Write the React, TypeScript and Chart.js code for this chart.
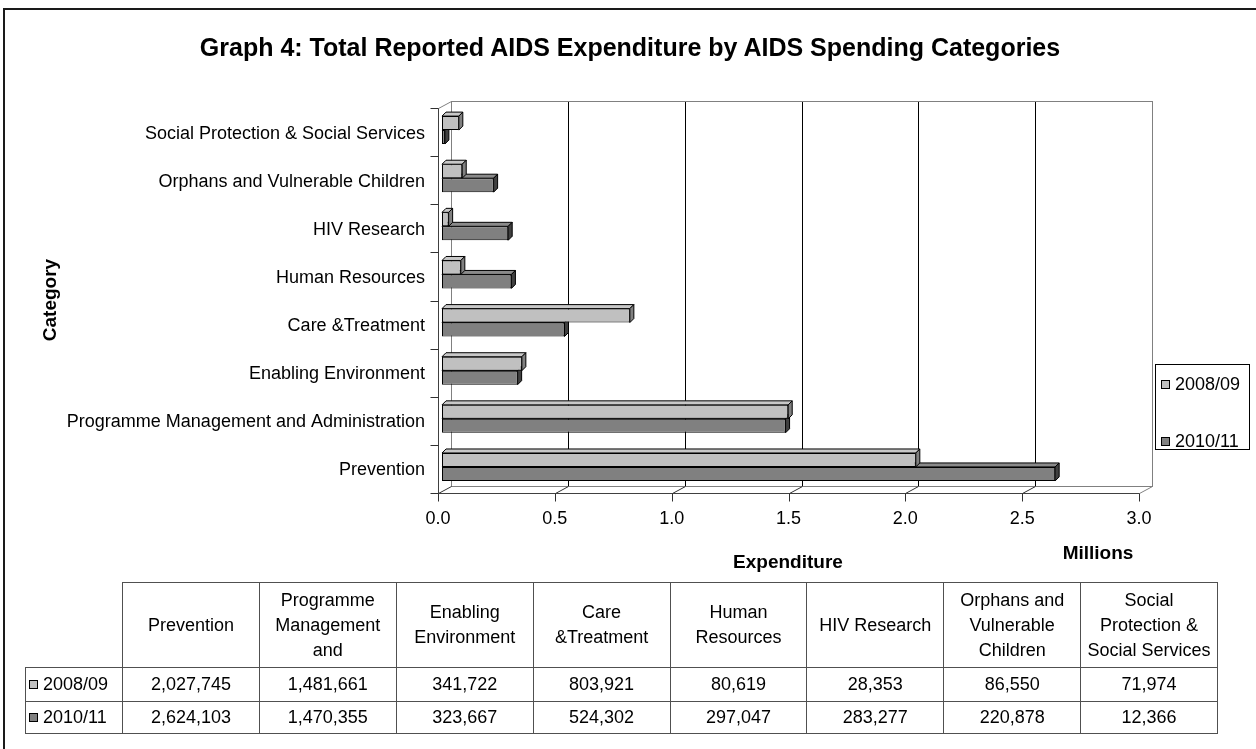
import React, { useEffect, useRef } from 'react';
import { Chart, registerables } from 'chart.js';

Chart.register(...registerables);

// ---------- data ----------
const categories = [
  'Prevention',
  'Programme Management and Administration',
  'Enabling Environment',
  'Care &Treatment',
  'Human Resources',
  'HIV Research',
  'Orphans and Vulnerable Children',
  'Social Protection & Social Services',
];
const seriesNames = ['2008/09', '2010/11'];
const values2008 = [2027745, 1481661, 341722, 803921, 80619, 28353, 86550, 71974];
const values2010 = [2624103, 1470355, 323667, 524302, 297047, 283277, 220878, 12366];
const xTickValues = [0, 500000, 1000000, 1500000, 2000000, 2500000, 3000000];
const xTickLabels = ['0.0', '0.5', '1.0', '1.5', '2.0', '2.5', '3.0'];

const titleText = 'Graph 4: Total Reported AIDS Expenditure by AIDS Spending Categories';
const xTitle = 'Expenditure';
const yTitle = 'Category';
const unitTitle = 'Millions';

// ---------- styles ----------
const FONT = '"Liberation Sans", Arial, Helvetica, sans-serif';
const frontColors = ['#C0C0C0', '#808080'];
const topColors = ['#C8C8C8', '#8A8A8A'];
const sideColors = ['#808080', '#404040'];
const W = 1256;
const H = 749;
const DX = 13;
const DY = -7;
const BAR_D = 4;

const threeD = {
  id: 'threeD',
  beforeDatasetsDraw(chart: any) {
    const ctx = chart.ctx;
    const a = chart.chartArea;
    const xs = chart.scales.x;
    const ys = chart.scales.y;
    const px = (v: number) => Math.round(v) + 0.5;
    ctx.save();
    ctx.lineWidth = 1;
    const L = px(a.left), R = px(a.right), T = px(a.top), B = px(a.bottom);

    // back wall gridlines
    xTickValues.forEach((v, i) => {
      const x = px(xs.getPixelForValue(v));
      if (i > 0 && i < xTickValues.length - 1) {
        ctx.strokeStyle = '#000';
        ctx.beginPath();
        ctx.moveTo(x + DX, T + DY);
        ctx.lineTo(x + DX, B + DY);
        ctx.stroke();
      }
    });
    // back wall frame
    ctx.strokeStyle = '#808080';
    ctx.strokeRect(L + DX, T + DY, R - L, B - T);
    // left wall top diagonal
    ctx.beginPath();
    ctx.moveTo(L, T);
    ctx.lineTo(L + DX, T + DY);
    ctx.stroke();
    // floor diagonals
    xTickValues.forEach((v, i) => {
      const x = px(xs.getPixelForValue(v));
      ctx.strokeStyle = i === xTickValues.length - 1 ? '#808080' : '#303030';
      ctx.beginPath();
      ctx.moveTo(x, B);
      ctx.lineTo(x + DX, B + DY);
      ctx.stroke();
    });
    // front axes
    ctx.strokeStyle = '#404040';
    ctx.beginPath();
    ctx.moveTo(L, T);
    ctx.lineTo(L, B);
    ctx.lineTo(R, B);
    ctx.stroke();
    // x ticks
    ctx.strokeStyle = '#303030';
    xTickValues.forEach((v) => {
      const x = px(xs.getPixelForValue(v));
      ctx.beginPath();
      ctx.moveTo(x, B);
      ctx.lineTo(x, B + 8);
      ctx.stroke();
    });
    // y ticks
    const n = categories.length;
    const band = (a.bottom - a.top) / n;
    for (let k = 0; k <= n; k++) {
      const y = px(a.top + k * band);
      ctx.beginPath();
      ctx.moveTo(L - 8, y);
      ctx.lineTo(L, y);
      ctx.stroke();
    }
    // labels
    ctx.fillStyle = '#000';
    ctx.font = `18px ${FONT}`;
    ctx.textAlign = 'center';
    ctx.textBaseline = 'alphabetic';
    xTickValues.forEach((v, i) => {
      ctx.fillText(xTickLabels[i], xs.getPixelForValue(v), a.bottom + 31);
    });
    ctx.textAlign = 'right';
    categories.forEach((c, i) => {
      ctx.fillText(c, a.left - 13, ys.getPixelForValue(i) + 6.5);
    });
    ctx.restore();

    // shift bars into depth
    ctx.save();
    ctx.translate(4, -2);
  },
  afterDatasetDraw(chart: any, args: any) {
    const ctx = chart.ctx;
    const idx = args.index;
    ctx.save();
    ctx.lineWidth = 1;
    ctx.strokeStyle = '#000';
    args.meta.data.forEach((el: any) => {
      const { x, y, base, height } = el.getProps(['x', 'y', 'base', 'height'], true);
      const l = Math.min(x, base);
      const r = Math.max(x, base);
      const t = y - height / 2;
      const b = y + height / 2;
      const d = BAR_D;
      ctx.fillStyle = topColors[idx];
      ctx.beginPath();
      ctx.moveTo(l, t);
      ctx.lineTo(l + d, t - d);
      ctx.lineTo(r + d, t - d);
      ctx.lineTo(r, t);
      ctx.closePath();
      ctx.fill();
      ctx.stroke();
      ctx.fillStyle = sideColors[idx];
      ctx.beginPath();
      ctx.moveTo(r, t);
      ctx.lineTo(r + d, t - d);
      ctx.lineTo(r + d, b - d);
      ctx.lineTo(r, b);
      ctx.closePath();
      ctx.fill();
      ctx.stroke();
    });
    ctx.restore();
  },
  afterDatasetsDraw(chart: any) {
    chart.ctx.restore();
  },
};

const fmt = (v: number) => v.toLocaleString('en-US');

export default function App() {
  const ref = useRef<HTMLCanvasElement | null>(null);

  useEffect(() => {
    if (!ref.current) return;
    const chart = new Chart(ref.current, {
      type: 'bar',
      data: {
        labels: categories,
        datasets: [
          {
            label: seriesNames[0],
            data: values2008,
            backgroundColor: frontColors[0],
            borderColor: '#000',
            borderWidth: 1,
            borderSkipped: false,
            categoryPercentage: 0.58,
            barPercentage: 1,
            clip: false as any,
          },
          {
            label: seriesNames[1],
            data: values2010,
            backgroundColor: frontColors[1],
            borderColor: '#000',
            borderWidth: 1,
            borderSkipped: false,
            categoryPercentage: 0.58,
            barPercentage: 1,
            clip: false as any,
          },
        ],
      },
      options: {
        indexAxis: 'y',
        animation: false,
        responsive: false,
        devicePixelRatio: 1,
        layout: { padding: { left: 438, right: W - 1139, top: 108, bottom: H - 493 } },
        scales: {
          x: { display: false, min: 0, max: 3000000 },
          y: { display: false, reverse: true },
        },
        plugins: {
          legend: { display: false },
          tooltip: { enabled: false },
          title: { display: false },
        },
      },
      plugins: [threeD],
    });
    return () => chart.destroy();
  }, []);

  const colLeft = 122;
  const colRight = 1217;
  const colW = (colRight - colLeft) / categories.length;
  const headTop = 582;
  const headBot = 667;
  const rowLines = [667, 701, 733];
  const rowVals = [values2008, values2010];
  const border = '1px solid #505050';

  const cells: React.ReactNode[] = [];
  categories.forEach((c, i) => {
    cells.push(
      <div
        key={'h' + i}
        style={{
          position: 'absolute',
          left: colLeft + i * colW,
          top: headTop,
          width: colW + 1,
          height: headBot - headTop + 1,
          border,
          boxSizing: 'border-box',
          display: 'flex',
          alignItems: 'center',
          justifyContent: 'center',
          padding: '0 4px',
        }}
      >
        <div style={{ maxHeight: 75, overflow: 'hidden', textAlign: 'center', lineHeight: '25px' }}>{c}</div>
      </div>
    );
  });
  rowVals.forEach((vals, r) => {
    const top = rowLines[r];
    const h = rowLines[r + 1] - top + 1;
    cells.push(
      <div
        key={'l' + r}
        style={{
          position: 'absolute',
          left: 25,
          top,
          width: colLeft - 25 + 1,
          height: h,
          border,
          boxSizing: 'border-box',
          display: 'flex',
          alignItems: 'center',
        }}
      >
        <span
          style={{
            display: 'inline-block',
            width: 7,
            height: 7,
            background: frontColors[r],
            border: '1px solid #000',
            marginLeft: 3,
            marginRight: 5,
          }}
        />
        <span>{seriesNames[r]}</span>
      </div>
    );
    vals.forEach((v, i) => {
      cells.push(
        <div
          key={'c' + r + '-' + i}
          style={{
            position: 'absolute',
            left: colLeft + i * colW,
            top,
            width: colW + 1,
            height: h,
            border,
            boxSizing: 'border-box',
            display: 'flex',
            alignItems: 'center',
            justifyContent: 'center',
          }}
        >
          {fmt(v)}
        </div>
      );
    });
  });

  return (
    <div
      style={{
        position: 'fixed',
        left: 0,
        top: 0,
        width: W,
        height: H,
        overflow: 'hidden',
        background: '#fff',
        fontFamily: FONT,
        fontSize: 18,
        color: '#000',
      }}
    >
      <div
        style={{
          position: 'absolute',
          left: 3,
          top: 8,
          width: 1400,
          height: 900,
          borderLeft: '2px solid #1a1a1a',
          borderTop: '2px solid #1a1a1a',
        }}
      />
      <canvas ref={ref} width={W} height={H} style={{ position: 'absolute', left: 0, top: 0, width: W, height: H }} />
      <div
        style={{
          position: 'absolute',
          left: 0,
          top: 32,
          width: 1260,
          textAlign: 'center',
          fontWeight: 'bold',
          fontSize: 25,
          lineHeight: '30px',
        }}
      >
        {titleText}
      </div>
      <div
        style={{
          position: 'absolute',
          left: -20,
          top: 288,
          width: 140,
          height: 24,
          lineHeight: '24px',
          textAlign: 'center',
          fontWeight: 'bold',
          fontSize: 19,
          transform: 'rotate(-90deg)',
        }}
      >
        {yTitle}
      </div>
      <div
        style={{
          position: 'absolute',
          left: 688,
          top: 550,
          width: 200,
          lineHeight: '24px',
          textAlign: 'center',
          fontWeight: 'bold',
          fontSize: 19,
        }}
      >
        {xTitle}
      </div>
      <div
        style={{
          position: 'absolute',
          left: 1038,
          top: 541,
          width: 120,
          lineHeight: '24px',
          textAlign: 'center',
          fontWeight: 'bold',
          fontSize: 19,
        }}
      >
        {unitTitle}
      </div>
      <div
        style={{
          position: 'absolute',
          left: 1155,
          top: 364,
          width: 95,
          height: 86,
          border: '1px solid #000',
          boxSizing: 'border-box',
        }}
      >
        {seriesNames.map((s, i) => (
          <div
            key={s}
            style={{
              position: 'absolute',
              left: 5,
              top: i === 0 ? 8 : 65,
              height: 22,
              display: 'flex',
              alignItems: 'center',
              whiteSpace: 'nowrap',
            }}
          >
            <span
              style={{
                display: 'inline-block',
                width: 7,
                height: 7,
                background: frontColors[i],
                border: '1px solid #000',
                marginRight: 5,
              }}
            />
            <span>{s}</span>
          </div>
        ))}
      </div>
      {cells}
    </div>
  );
}
